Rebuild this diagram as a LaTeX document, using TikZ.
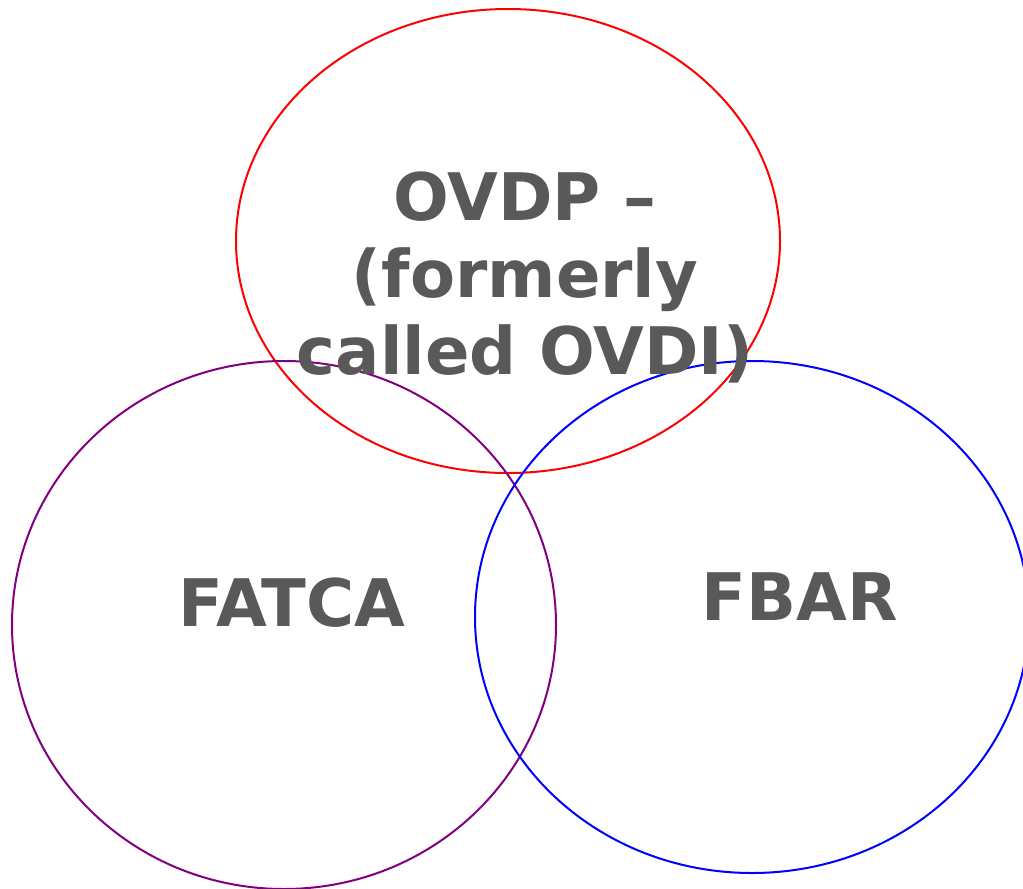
\documentclass[tikz,border=0pt]{standalone}
\usepackage{fontspec}
\setmainfont{DejaVu Sans}
\definecolor{labelgray}{HTML}{595959}
\definecolor{setpurple}{HTML}{800080}
\tikzset{
  setline/.style = {line width=1pt},
  setlabel/.style = {text=labelgray, font=\bfseries\fontsize{32.8}{38.5}\selectfont, inner sep=0pt, align=center}
}

\begin{document}
\begin{tikzpicture}[x=0.5pt, y=-0.5pt]
\useasboundingbox (0,0) rectangle (1023,889);
\clip (0,0) rectangle (1023,889);

% the three sets:
\draw[setline, red] (508,241) ellipse [x radius=272, y radius=232];
\draw[setline, setpurple] (284,625) ellipse [x radius=272, y radius=264];
\draw[setline, blue] (752,617) ellipse [x radius=277, y radius=256];

% set labels:
\node(ovdp)[setlabel, anchor=north] at (525,171) {OVDP --\\(formerly\\called OVDI)};
\node(fatca)[setlabel] at (292,603) {FATCA};
\node(fbar)[setlabel] at (800,597) {FBAR};

\end{tikzpicture}
\end{document}
